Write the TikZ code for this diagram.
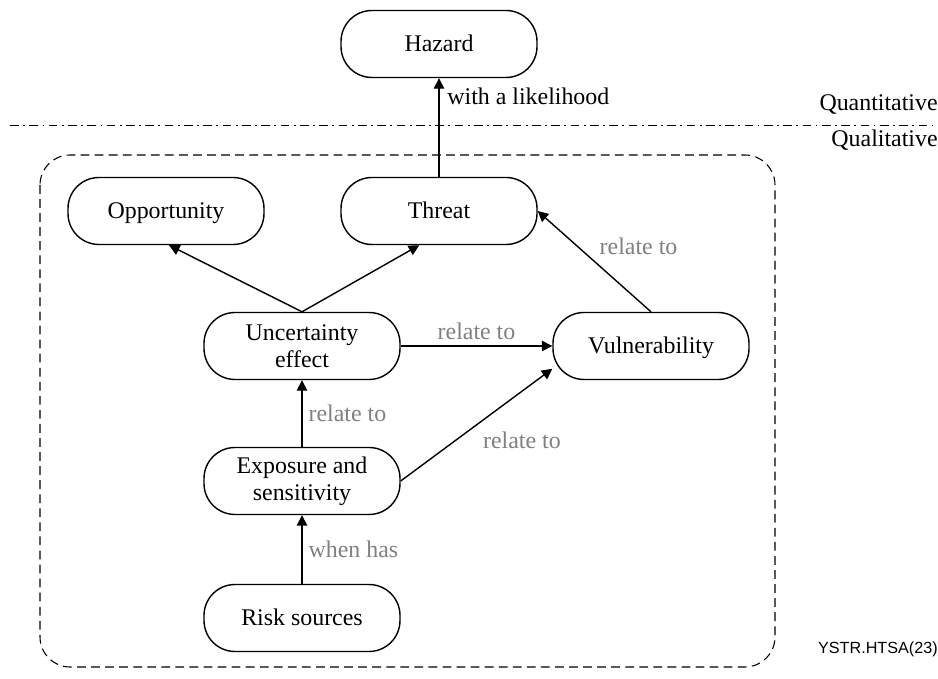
\documentclass[tikz,border=0pt]{standalone}
\usepackage{fontspec}
\setmainfont{Liberation Serif}
\newfontfamily\tagfont{Liberation Sans}
\usetikzlibrary{arrows.meta}

\tikzset{
    box/.style={draw,line width=0.8pt,rounded corners=0.62cm,minimum width=3.92cm,minimum height=1.34cm,align=center,font=\fontsize{13.6}{15.4}\selectfont},
    onebox/.style={box,text height=2.2ex,text depth=0.4ex},
    link/.style={-{Triangle[length=6pt,width=6pt]},line width=0.8pt},
    lbl/.style={text=black!50,font=\fontsize{13.6}{15.4}\selectfont}
}

\begin{document}
\begin{tikzpicture}
                \useasboundingbox (0,0) rectangle (18.76,-13.58);
                % qualitative frame and separation line
                \draw[dashed,line width=0.6pt,dash pattern=on 5pt off 3pt,rounded corners=0.6cm] (0.8,-3.1) rectangle (15.5,-13.34);
                \draw[line width=0.5pt,dash pattern=on 5pt off 2.5pt on 1pt off 2.5pt] (0.2,-2.5) -- (18.76,-2.5);
                \node[anchor=base east,inner sep=0pt,font=\fontsize{13.6}{15.4}\selectfont] (quan) at (18.76,-2.22) {Quantitative};
                \node[anchor=base east,inner sep=0pt,font=\fontsize{13.6}{15.4}\selectfont] (qual) at (18.76,-2.93) {Qualitative};
                % nodes
                \node[onebox] (haz) at (8.78,-0.88) {Hazard};
                \node[onebox] (opp) at (3.32,-4.22) {Opportunity};
                \node[onebox] (thr) at (8.78,-4.22) {Threat};
                \node[box] (unc) at (6.04,-6.92) {Uncertainty\\effect};
                \node[onebox] (vul) at (13.02,-6.92) {Vulnerability};
                \node[box] (exp) at (6.04,-9.62) {Exposure and\\sensitivity};
                \node[onebox] (risk) at (6.04,-12.36) {Risk sources};
                % links
                \draw[link] (thr.north) -- (haz.south);
                \node[anchor=base west,inner sep=0pt,font=\fontsize{13.6}{15.4}\selectfont] (like) at (8.94,-2.1) {with a likelihood};
                \draw[link] (unc.north) -- (opp.-85);
                \draw[link] (unc.north) -- (thr.-120);
                \draw[link] (unc.east) -- node[lbl,above] {relate to} (vul.west);
                \draw[link] (vul.north) -- node[lbl,pos=0.65,right=9pt] {relate to} (thr.east);
                \draw[link] (exp.north) -- node[lbl,right] {relate to} (unc.south);
                \draw[link] (exp.east) -- node[lbl,pos=0.5,below right] {relate to} (vul.193);
                \draw[link] (risk.north) -- node[lbl,right] {when has} (exp.south);
                \node[anchor=base east,inner sep=0pt,font=\tagfont\fontsize{9.2}{10}\selectfont] (tag) at (18.76,-13.08) {YSTR.HTSA(23)};
\end{tikzpicture}
\end{document}
